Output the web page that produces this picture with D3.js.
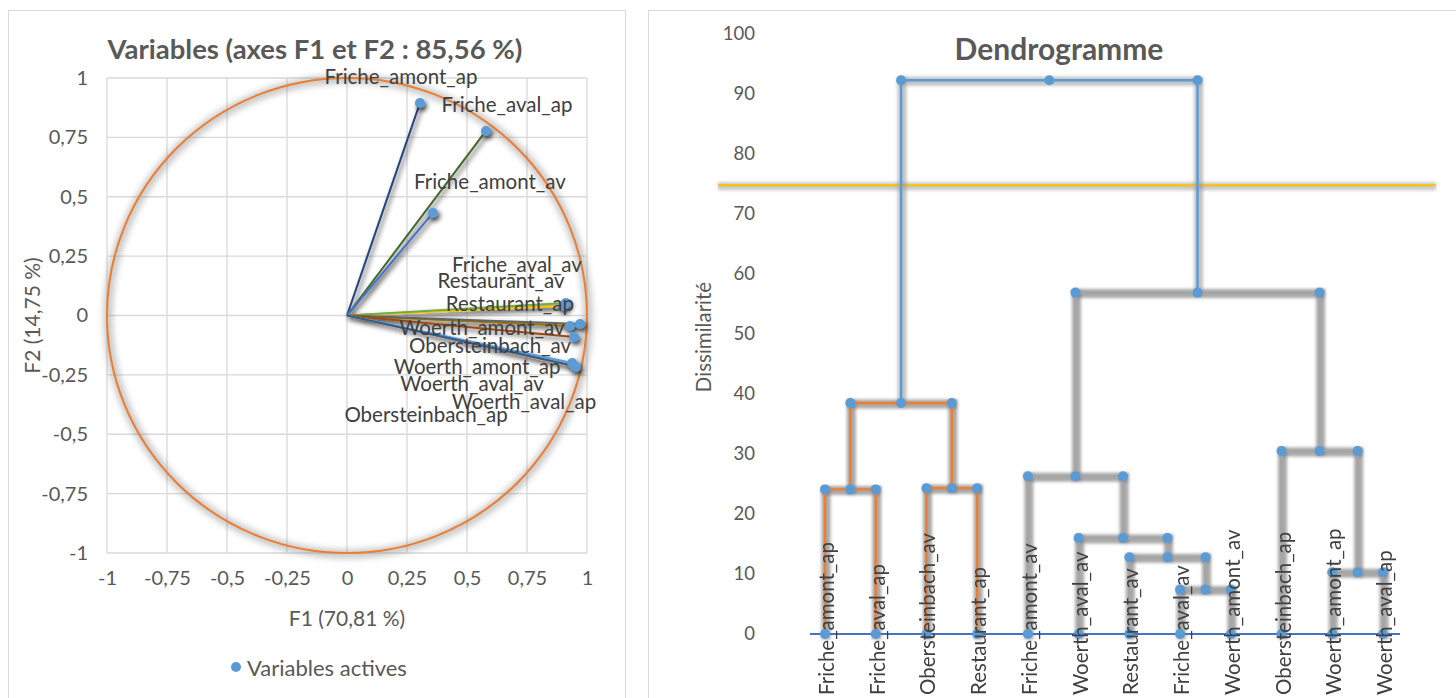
<!DOCTYPE html>
<html><head><meta charset="utf-8">
<script src="https://cdn.jsdelivr.net/npm/d3@7"></script>
<style>body{margin:0;background:#fff;} svg{display:block;font-family:Lato,'Open Sans',sans-serif;}</style>
</head><body>
<svg id="c" width="1456" height="698"></svg>
<script>
// ---------- DATA ----------
const variables = ["Friche_amont_ap","Friche_aval_ap","Friche_amont_av","Friche_aval_av","Restaurant_av","Restaurant_ap","Woerth_amont_av","Woerth_aval_av","Obersteinbach_av","Woerth_amont_ap","Woerth_aval_ap","Obersteinbach_ap"];
const f1 = [0.304,0.579,0.358,0.904,0.900,0.912,0.929,0.971,0.946,0.938,0.954,0.946];
const f2 = [0.895,0.777,0.432,0.044,0.040,0.053,-0.044,-0.036,-0.091,-0.200,-0.217,-0.213];
const pcaTicks = [-1,-0.75,-0.5,-0.25,0,0.25,0.5,0.75,1];
const pcaTitle = "Variables (axes F1 et F2 : 85,56 %)";
const f1Title = "F1 (70,81 %)";
const f2Title = "F2 (14,75 %)";
const legendLabel = "Variables actives";

const leaves = ["Friche_amont_ap","Friche_aval_ap","Obersteinbach_av","Restaurant_ap","Friche_amont_av","Woerth_aval_av","Restaurant_av","Friche_aval_av","Woerth_amont_av","Obersteinbach_ap","Woerth_amont_ap","Woerth_aval_ap"];
// merges: [childA, childB, height]; ids 0..11 = leaves, 12.. = merges in order
const merges = [[7,8,7.4],[10,11,10.3],[6,12,12.8],[5,14,16.0],[0,1,24.1],[2,3,24.3],[4,15,26.3],[9,13,30.5],[16,17,38.5],[18,19,56.9],[20,21,92.3]];
const cutLevel = 74.8;
const dissimTicks = [0,10,20,30,40,50,60,70,80,90,100];
const dendroTitle = "Dendrogramme";
const dendroYTitle = "Dissimilarité";

// ---------- STYLE / LAYOUT ----------
const vecColors = ["#264478","#43682B","#4472C4","#A5A5A5","#FFC000","#70AD47","#997300","#636363","#9E480E","#5B9BD5","#F1975A","#255E91"];
const labelOffsets = [[-19,-27],[21,-27],[57,-32],[-47,-41],[-62,-26],[-56,0],[-88,1],[-108,59],[-84,8],[-95,3],[-52,34],[-148,48]];
const txt = "#595959", grid = "#D9D9D9", dotC = "#5B9BD5";
const FS = 20.5;

const loc = d3.formatLocale({decimal:",",thousands:" ",grouping:[3],currency:["","€"],minus:"-"});
const fmt = loc.format("~g");

const svg = d3.select("#c");
const defs = svg.append("defs");
const sh = defs.append("filter").attr("id","sh").attr("filterUnits","userSpaceOnUse")
  .attr("x",0).attr("y",0).attr("width",1456).attr("height",698);
sh.append("feGaussianBlur").attr("in","SourceAlpha").attr("stdDeviation",2.5);
sh.append("feOffset").attr("dx",1.5).attr("dy",2.5);
sh.append("feComponentTransfer").append("feFuncA").attr("type","linear").attr("slope",0.75);
const m = sh.append("feMerge"); m.append("feMergeNode"); m.append("feMergeNode").attr("in","SourceGraphic");
const bl = defs.append("filter").attr("id","bl").attr("filterUnits","userSpaceOnUse")
  .attr("x",0).attr("y",0).attr("width",1456).attr("height",698);
bl.append("feGaussianBlur").attr("stdDeviation",1.8);
const bl2 = defs.append("filter").attr("id","bl2").attr("filterUnits","userSpaceOnUse")
  .attr("x",0).attr("y",0).attr("width",1456).attr("height",698);
bl2.append("feGaussianBlur").attr("stdDeviation",3);

// chart frames
svg.append("rect").attr("x",8.5).attr("y",10.5).attr("width",617).attr("height",700).attr("fill","none").attr("stroke","#D9D9D9");
svg.append("rect").attr("x",648.5).attr("y",10.5).attr("width",820).attr("height",700).attr("fill","none").attr("stroke","#D9D9D9");

// ---------- LEFT: correlation circle ----------
const x = d3.scaleLinear().domain([-1,1]).range([107,587]);
const y = d3.scaleLinear().domain([-1,1]).range([553,78]);
const L = svg.append("g");
L.append("g").selectAll("line.v").data(pcaTicks).join("line")
  .attr("x1",d=>x(d)).attr("x2",d=>x(d)).attr("y1",y(-1)).attr("y2",y(1)).attr("stroke",grid).attr("stroke-width",1.3);
L.append("g").selectAll("line.h").data(pcaTicks).join("line")
  .attr("y1",d=>y(d)).attr("y2",d=>y(d)).attr("x1",x(-1)).attr("x2",x(1)).attr("stroke",grid).attr("stroke-width",1.3);

const xAx = L.append("g").attr("transform",`translate(0,${y(-1)})`)
  .call(d3.axisBottom(x).tickValues(pcaTicks).tickFormat(fmt).tickSize(0).tickPadding(18));
const yAx = L.append("g").attr("transform",`translate(${x(-1)},0)`)
  .call(d3.axisLeft(y).tickValues(pcaTicks).tickFormat(fmt).tickSize(0).tickPadding(19));
[xAx,yAx].forEach(a=>{a.select(".domain").remove();a.selectAll("text").attr("fill",txt).attr("font-size",20).attr("font-family","Lato");});

// circle
L.append("ellipse").attr("cx",x(0)+1).attr("cy",y(0)+1).attr("rx",x(1)-x(0)).attr("ry",y(0)-y(1))
  .attr("fill","none").attr("stroke","#777").attr("stroke-width",9).attr("opacity",0.4).attr("filter","url(#bl2)");
L.append("ellipse").attr("cx",x(0)).attr("cy",y(0)).attr("rx",x(1)-x(0)).attr("ry",y(0)-y(1))
  .attr("fill","none").attr("stroke","#ED7D31").attr("stroke-width",2);

// vectors
const vecG = L.append("g").attr("filter","url(#sh)");
vecG.selectAll("line").data(variables).join("line")
  .attr("x1",x(0)).attr("y1",y(0)).attr("x2",(d,i)=>x(f1[i])).attr("y2",(d,i)=>y(f2[i]))
  .attr("stroke",(d,i)=>vecColors[i]).attr("stroke-width",2);
L.append("g").attr("filter","url(#sh)").selectAll("circle").data(variables).join("circle")
  .attr("cx",(d,i)=>x(f1[i])).attr("cy",(d,i)=>y(f2[i])).attr("r",5).attr("fill",dotC);
L.append("g").selectAll("text").data(variables).join("text")
  .attr("x",(d,i)=>x(f1[i])+labelOffsets[i][0]).attr("y",(d,i)=>y(f2[i])+labelOffsets[i][1])
  .attr("text-anchor","middle").attr("dominant-baseline","central").attr("fill","#404040")
  .attr("font-size",FS).text(d=>d);

L.append("text").attr("x",315).attr("y",48).attr("text-anchor","middle").attr("dominant-baseline","central")
  .attr("font-weight","bold").attr("font-size",27.5).attr("fill",txt).text(pcaTitle);
L.append("text").attr("x",x(0)).attr("y",617).attr("text-anchor","middle").attr("dominant-baseline","central")
  .attr("font-size",21).attr("fill",txt).text(f1Title);
L.append("text").attr("transform",`translate(31,${y(0)}) rotate(-90)`).attr("text-anchor","middle").attr("dominant-baseline","central")
  .attr("font-size",21).attr("fill",txt).text(f2Title);
L.append("circle").attr("cx",236).attr("cy",667).attr("r",5).attr("fill",dotC);
L.append("text").attr("x",247).attr("y",667).attr("dominant-baseline","central")
  .attr("font-size",22).attr("fill",txt).text(legendLabel);

// ---------- RIGHT: dendrogram ----------
const xs = d3.scalePoint().domain(leaves).range([825,1383]);
const ys = d3.scaleLinear().domain([0,100]).range([634,34]);
const R = svg.append("g");
const yAx2 = R.append("g").attr("transform","translate(770,0)")
  .call(d3.axisLeft(ys).tickValues(dissimTicks).tickSize(0).tickPadding(15));
yAx2.select(".domain").remove();
yAx2.selectAll("text").attr("fill",txt).attr("font-size",18.5).attr("font-family","Lato");
R.append("text").attr("transform",`translate(703,337) rotate(-90)`).attr("text-anchor","middle").attr("dominant-baseline","central")
  .attr("font-size",20.5).attr("fill",txt).text(dendroYTitle);
R.append("text").attr("x",1059).attr("y",48).attr("text-anchor","middle").attr("dominant-baseline","central")
  .attr("font-weight","bold").attr("font-size",30).attr("fill",txt).text(dendroTitle);

// node positions
const nodeX = leaves.map(l=>xs(l)), nodeH = leaves.map(()=>0);
merges.forEach(([a,b,h])=>{nodeX.push((nodeX[a]+nodeX[b])/2); nodeH.push(h);});
const nLeaf = leaves.length, rootId = nLeaf+merges.length-1;
function subtree(id,acc){acc.add(id); if(id>=nLeaf){const [a,b]=merges[id-nLeaf]; subtree(a,acc); subtree(b,acc);} return acc;}
const groupA = subtree(merges[merges.length-1][0],new Set());
const segColor = id => id===rootId ? "#5B9BD5" : (groupA.has(id) ? "#ED7D31" : "#A5A5A5");
const segs = [], dots = [];
merges.forEach(([a,b,h],k)=>{
  const id = nLeaf+k;
  segs.push({id,x1:nodeX[a],y1:h,x2:nodeX[b],y2:h});
  segs.push({id,x1:nodeX[a],y1:nodeH[a],x2:nodeX[a],y2:h});
  segs.push({id,x1:nodeX[b],y1:nodeH[b],x2:nodeX[b],y2:h});
  dots.push([nodeX[a],h],[nodeX[id],h],[nodeX[b],h]);
});
leaves.forEach(l=>dots.push([xs(l),0]));

// baseline
R.append("line").attr("x1",xs.range()[0]-15).attr("x2",xs.range()[1]+17).attr("y1",ys(0)).attr("y2",ys(0))
  .attr("stroke","#4472C4").attr("stroke-width",2);
// cut line
R.append("line").attr("x1",718).attr("x2",1436).attr("y1",ys(cutLevel)+1).attr("y2",ys(cutLevel)+1)
  .attr("stroke","#888").attr("stroke-width",8).attr("opacity",0.45).attr("filter","url(#bl)");
R.append("line").attr("x1",718).attr("x2",1436).attr("y1",ys(cutLevel)).attr("y2",ys(cutLevel))
  .attr("stroke","#FFC000").attr("stroke-width",2);
// shadows
R.append("g").attr("filter","url(#bl)").selectAll("line").data(segs).join("line")
  .attr("x1",d=>d.x1+1).attr("x2",d=>d.x2+1).attr("y1",d=>ys(d.y1)+1).attr("y2",d=>ys(d.y2)+1)
  .attr("stroke",d=>d.id===rootId?"#999":"#6e6e6e").attr("stroke-width",9).attr("stroke-linecap","square").attr("opacity",0.6);
R.append("g").selectAll("line").data(segs).join("line")
  .attr("x1",d=>d.x1).attr("x2",d=>d.x2).attr("y1",d=>ys(d.y1)).attr("y2",d=>ys(d.y2))
  .attr("stroke",d=>segColor(d.id)).attr("stroke-width",2.4).attr("stroke-linecap","square");
R.append("g").selectAll("circle").data(dots).join("circle")
  .attr("cx",d=>d[0]).attr("cy",d=>ys(d[1])).attr("r",5).attr("fill",dotC);
// leaf labels
R.append("g").selectAll("text").data(leaves).join("text")
  .attr("transform",d=>`translate(${xs(d)+1},695) rotate(-90)`).attr("dominant-baseline","central")
  .attr("font-size",FS).attr("fill","#404040").text(d=>d);
</script>
</body></html>
